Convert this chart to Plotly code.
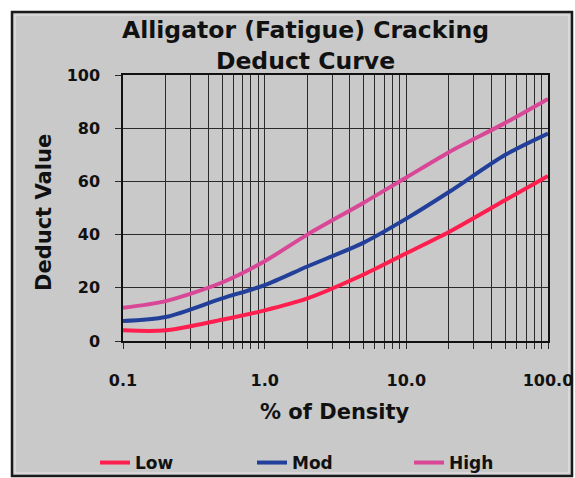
import plotly.graph_objects as go

# ---- data ----
density = [0.1, 0.2, 0.5, 1, 2, 5, 10, 20, 50, 100]
low = [4, 4, 8, 11.5, 16, 25, 33, 41, 53, 62]
mod = [7.5, 9, 16, 21, 28, 37, 46, 56, 70, 78]
high = [12.5, 15, 22, 30, 40, 52, 61.5, 71, 82, 91]

series_names = ["Low", "Mod", "High"]
series_colors = ["#ff1f4f", "#22409a", "#d94896"]

x_tickvals = [0.1, 1, 10, 100]
x_ticktext = ["0.1", "1.0", "10.0", "100.0"]
x_minor = [0.2, 0.3, 0.4, 0.5, 0.6, 0.7, 0.8, 0.9,
           2, 3, 4, 5, 6, 7, 8, 9,
           20, 30, 40, 50, 60, 70, 80, 90]
y_tickvals = [0, 20, 40, 60, 80, 100]

title_text = "Alligator (Fatigue) Cracking<br>Deduct Curve"
x_title = "% of Density"
y_title = "Deduct Value"

FONT = "DejaVu Sans"
BG = "#c9c9c9"
GRID = "#2a2a2a"

W, H = 575, 478
L, R, T, B = 123, 27, 75, 137
pw, ph = W - L - R, H - T - B


def px_x(p):
    return (p - L) / pw


def px_y(p):
    return (H - B - p) / ph


fig = go.Figure()
for name, ys, col in zip(series_names, [low, mod, high], series_colors):
    fig.add_trace(go.Scatter(
        x=density, y=ys, name=name, mode="lines",
        line=dict(color=col, width=4, shape="spline", smoothing=0.8),
    ))

fig.update_layout(
    width=W, height=H,
    margin=dict(l=L, r=R, t=T, b=B, pad=0, autoexpand=False),
    paper_bgcolor="white",
    plot_bgcolor=BG,
    font=dict(family=FONT, color="#111111", size=16, weight="bold"),
    showlegend=True,
    legend=dict(
        orientation="h", x=px_x(95), xanchor="left", y=px_y(463), yanchor="middle",
        entrywidth=112, entrywidthmode="pixels",
        font=dict(family=FONT, size=17, color="#111111", weight="bold"),
        bgcolor="rgba(0,0,0,0)", borderwidth=0, tracegroupgap=0,
    ),
    xaxis=dict(
        type="log", range=[-1, 2],
        tickvals=x_tickvals, ticktext=x_ticktext,
        ticks="outside", ticklen=6, tickcolor=GRID, tickwidth=1,
        ticklabelstandoff=18,
        showgrid=True, gridcolor=GRID, gridwidth=1,
        minor=dict(tickvals=x_minor, ticks="outside", ticklen=6, tickcolor=GRID,
                   showgrid=True, gridcolor=GRID, gridwidth=1),
        showline=True, linecolor="#111111", linewidth=1.5, mirror=True,
        zeroline=False, fixedrange=True,
        tickfont=dict(family=FONT, size=16, color="#111111", weight="bold"),
    ),
    yaxis=dict(
        range=[0, 100], tickvals=y_tickvals,
        ticks="outside", ticklen=6, tickcolor=GRID, tickwidth=1,
        ticklabelstandoff=12,
        showgrid=True, gridcolor=GRID, gridwidth=1,
        showline=True, linecolor="#111111", linewidth=1.5, mirror=True,
        zeroline=False, fixedrange=True,
        tickfont=dict(family=FONT, size=16, color="#111111", weight="bold"),
    ),
    shapes=[
        dict(type="rect", xref="paper", yref="paper", layer="below",
             x0=px_x(12), x1=px_x(572), y0=px_y(476), y1=px_y(12),
             fillcolor=BG, line=dict(color="#1a1a1a", width=2.5)),
        dict(type="rect", xref="paper", yref="paper", layer="below",
             x0=px_x(15), x1=px_x(569), y0=px_y(473), y1=px_y(15),
             fillcolor="rgba(0,0,0,0)", line=dict(color="#e6e6e6", width=1)),
    ],
    annotations=[
        dict(text=title_text, xref="paper", yref="paper",
             x=px_x(305), y=px_y(45), xanchor="center", yanchor="middle",
             showarrow=False,
             font=dict(family=FONT, size=23.5, color="#111111", weight="bold")),
        dict(text=x_title, xref="paper", yref="paper",
             x=px_x(335), y=px_y(412), xanchor="center", yanchor="middle",
             showarrow=False,
             font=dict(family=FONT, size=21, color="#111111", weight="bold")),
        dict(text=y_title, xref="paper", yref="paper",
             x=px_x(44), y=px_y(213), xanchor="center", yanchor="middle",
             showarrow=False, textangle=-90,
             font=dict(family=FONT, size=21, color="#111111", weight="bold")),
    ],
)

fig.write_html("out.html")
